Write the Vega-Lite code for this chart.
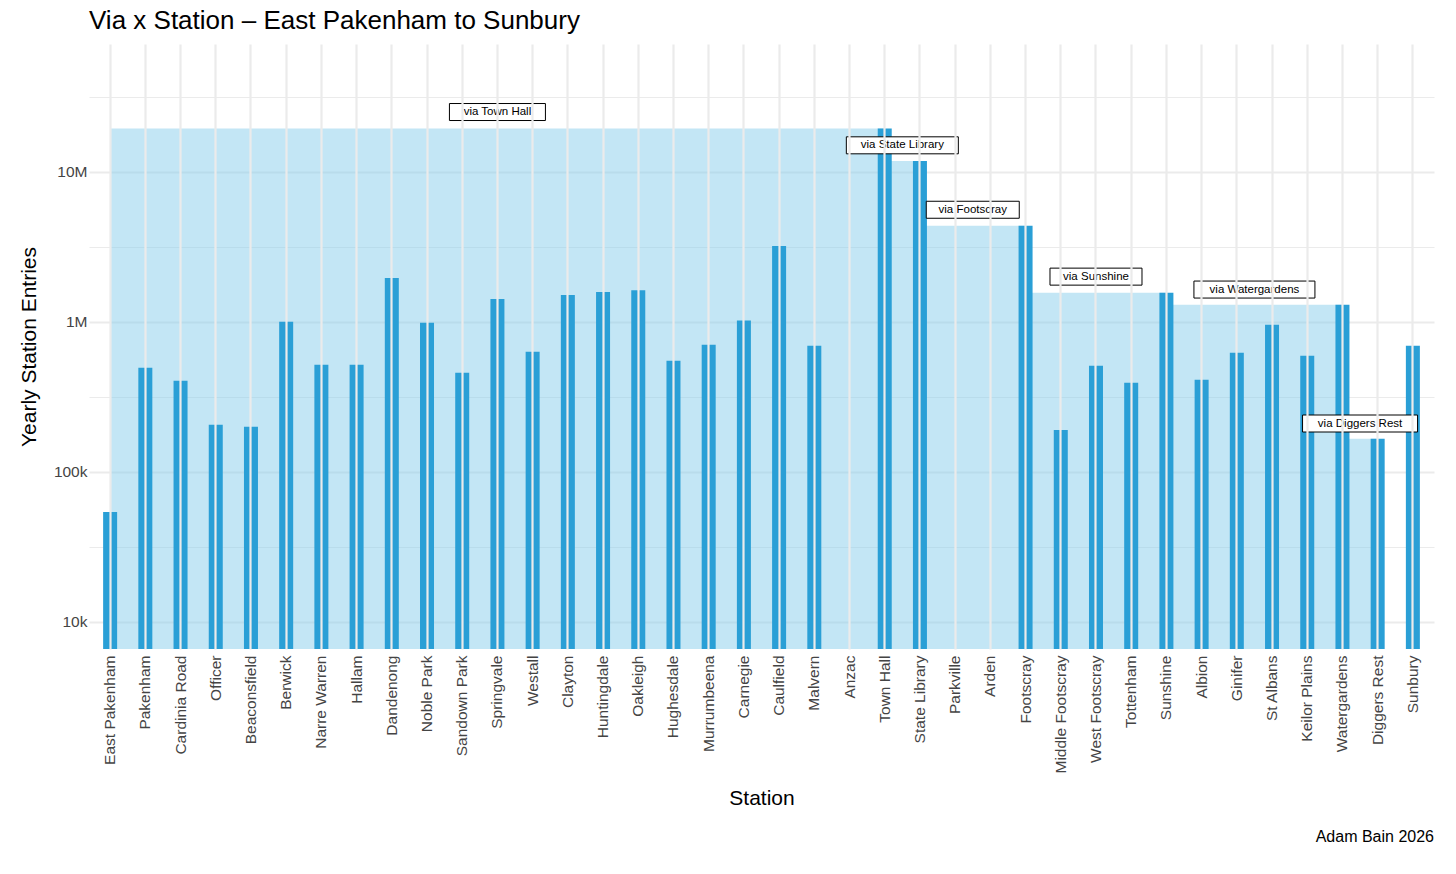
{
"$schema":"https://vega.github.io/schema/vega-lite/v6.json",
"background":"white",
"padding":{"left":18,"right":10,"top":8,"bottom":5},
"config":{"font":"Liberation Sans","view":{"stroke":null},"concat":{"spacing":0}},
"title":{"text":"Via x Station – East Pakenham to Sunbury","anchor":"start","fontSize":26,"fontWeight":"normal","color":"#000","offset":10,"frame":"group"},
"datasets":{
"st":[
{"station":"East Pakenham","value":54000},{"station":"Pakenham","value":494000},{"station":"Cardinia Road","value":404000},{"station":"Officer","value":206000},{"station":"Beaconsfield","value":200000},{"station":"Berwick","value":1000000},{"station":"Narre Warren","value":517000},{"station":"Hallam","value":517000},{"station":"Dandenong","value":1960000},{"station":"Noble Park","value":985000},{"station":"Sandown Park","value":457000},{"station":"Springvale","value":1420000},{"station":"Westall","value":631000},{"station":"Clayton","value":1510000},{"station":"Huntingdale","value":1580000},{"station":"Oakleigh","value":1620000},{"station":"Hughesdale","value":550000},{"station":"Murrumbeena","value":703000},{"station":"Carnegie","value":1020000},{"station":"Caulfield","value":3200000},{"station":"Malvern","value":692000},{"station":"Anzac","value":null},{"station":"Town Hall","value":19400000},{"station":"State Library","value":11800000},{"station":"Parkville","value":null},{"station":"Arden","value":null},{"station":"Footscray","value":4370000},{"station":"Middle Footscray","value":190000},{"station":"West Footscray","value":510000},{"station":"Tottenham","value":392000},{"station":"Sunshine","value":1560000},{"station":"Albion","value":411000},{"station":"Ginifer","value":622000},{"station":"St Albans","value":955000},{"station":"Keilor Plains","value":593000},{"station":"Watergardens","value":1300000},{"station":"Diggers Rest","value":166000},{"station":"Sunbury","value":692000}],
"seg":[
{"start":"East Pakenham","end":"Town Hall","value":19400000},
{"start":"Town Hall","end":"State Library","value":11800000},
{"start":"State Library","end":"Footscray","value":4370000},
{"start":"Footscray","end":"Sunshine","value":1560000},
{"start":"Sunshine","end":"Watergardens","value":1300000},
{"start":"Watergardens","end":"Diggers Rest","value":166000}],
"lab5":[
{"label":"via Town Hall","station":"Springvale","value":25000000,"path":"M-4.8,-0.85H4.8V0.85H-4.8Z"},
{"label":"via Sunshine","station":"West Footscray","value":2000000,"path":"M-4.6,-0.85H4.6V0.85H-4.6Z"}],
"lab1":[
{"label":"via State Library","station":"Town Hall","value":15000000,"path":"M-5.6,-0.85H5.6V0.85H-5.6Z"},
{"label":"via Footscray","station":"Parkville","value":5580000,"path":"M-4.65,-0.85H4.65V0.85H-4.65Z"},
{"label":"via Watergardens","station":"Ginifer","value":1640000,"path":"M-6.05,-0.85H6.05V0.85H-6.05Z"},
{"label":"via Diggers Rest","station":"Watergardens","value":210000,"path":"M-5.75,-0.85H5.75V0.85H-5.75Z"}]
},
"vconcat":[
{
"width":1345,"height":605,
"layer":[
{"data":{"name":"seg"},"mark":{"type":"rect","color":"#87ceeb","opacity":0.5},
 "encoding":{"x":{"field":"start","type":"nominal","bandPosition":0.5},"x2":{"field":"end","bandPosition":0.5},"y":{"field":"value","type":"quantitative"},"y2":{"datum":6600}}},
{"data":{"name":"st"},"transform":[{"filter":"datum.value != null"}],"mark":{"type":"bar","color":"#2a9fd6","size":14},
 "encoding":{"x":{"field":"station","type":"nominal","sort":null,
   "scale":{"domain":["East Pakenham","Pakenham","Cardinia Road","Officer","Beaconsfield","Berwick","Narre Warren","Hallam","Dandenong","Noble Park","Sandown Park","Springvale","Westall","Clayton","Huntingdale","Oakleigh","Hughesdale","Murrumbeena","Carnegie","Caulfield","Malvern","Anzac","Town Hall","State Library","Parkville","Arden","Footscray","Middle Footscray","West Footscray","Tottenham","Sunshine","Albion","Ginifer","St Albans","Keilor Plains","Watergardens","Diggers Rest","Sunbury"],"paddingOuter":0.1},
   "axis":{"title":"Station","titleFontSize":21,"titleFontWeight":"normal","titleColor":"#000","titlePadding":14,"labelAngle":-90,"labelFontSize":15.5,"labelColor":"#444","ticks":false,"domain":false,"grid":true,"gridColor":"#ebebeb","gridWidth":2.2,"labelPadding":6}},
  "y":{"field":"value","type":"quantitative","stack":null,"scale":{"type":"log","domain":[6600,71000000],"nice":false},
   "axis":{"title":"Yearly Station Entries","titleFontSize":21,"titleFontWeight":"normal","titleColor":"#000","titlePadding":14,"labelFontSize":15.5,"labelColor":"#444","ticks":false,"domain":false,
    "values":[10000,31623,100000,316228,1000000,3162278,10000000,31622777],
    "labelExpr":"datum.value==10000?'10k':datum.value==100000?'100k':datum.value==1000000?'1M':datum.value==10000000?'10M':''",
    "gridColor":"#ebebeb","gridWidth":{"condition":{"test":"datum.value==10000||datum.value==100000||datum.value==1000000||datum.value==10000000","value":2.2},"value":1.1}}},
  "y2":{"datum":6600}}},
{"data":{"name":"lab5"},"mark":{"type":"point","filled":true,"fill":"white","stroke":"black","strokeWidth":1,"opacity":1,"size":400},
 "encoding":{"x":{"field":"station","type":"nominal","bandPosition":0.5},"y":{"field":"value","type":"quantitative"},"shape":{"field":"path","scale":null}}},
{"data":{"name":"lab5"},"mark":{"type":"text","fontSize":11.5,"color":"black"},
 "encoding":{"x":{"field":"station","type":"nominal","bandPosition":0.5},"y":{"field":"value","type":"quantitative"},"text":{"field":"label"}}},
{"data":{"name":"lab1"},"mark":{"type":"point","filled":true,"fill":"white","stroke":"black","strokeWidth":1,"opacity":1,"size":400},
 "encoding":{"x":{"field":"station","type":"nominal","bandPosition":1},"y":{"field":"value","type":"quantitative"},"shape":{"field":"path","scale":null}}},
{"data":{"name":"lab1"},"mark":{"type":"text","fontSize":11.5,"color":"black"},
 "encoding":{"x":{"field":"station","type":"nominal","bandPosition":1},"y":{"field":"value","type":"quantitative"},"text":{"field":"label"}}}
]},
{"width":1345,"height":20,"data":{"values":[{"c":""}]},"mark":{"type":"text"},"encoding":{"text":{"field":"c"}},
 "title":{"text":"Adam Bain 2026","anchor":"end","orient":"bottom","fontSize":16,"fontWeight":"normal","color":"#000","offset":0}}
]
}
